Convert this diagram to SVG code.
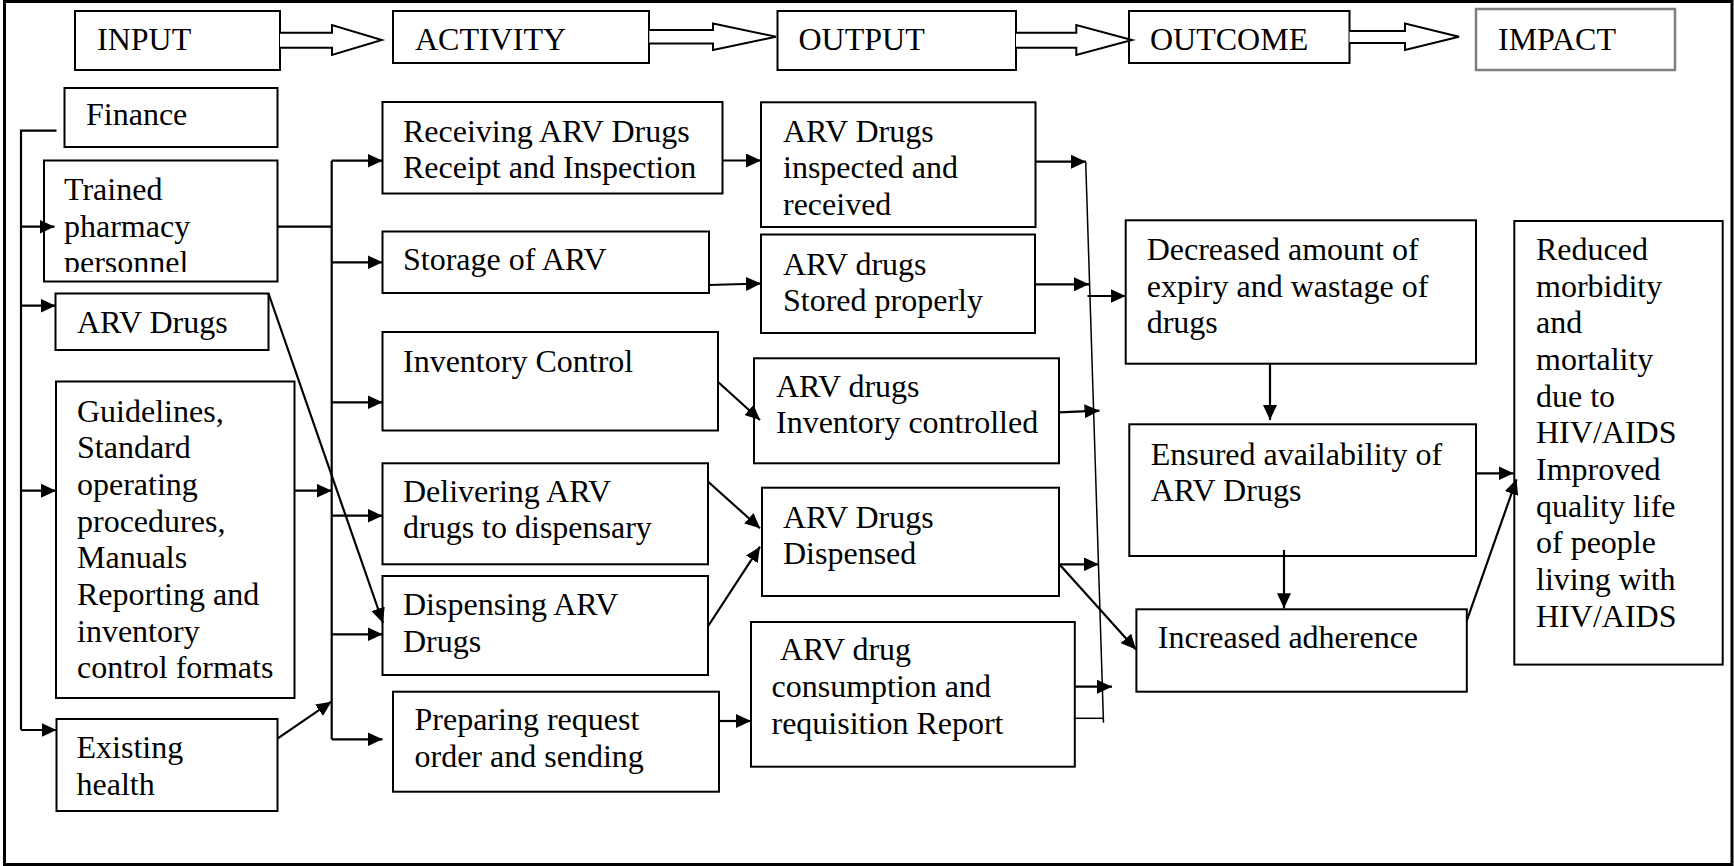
<svg xmlns="http://www.w3.org/2000/svg" width="1734" height="866" viewBox="0 0 1734 866">
<style>
.box{fill:#fff;stroke:#000;stroke-width:2}
.gbox{fill:#fff;stroke:#7f7f7f;stroke-width:2.5}
.t{font-family:"Liberation Serif","Times New Roman",serif;font-size:32px;fill:#000}
.c{fill:none;stroke:#000;stroke-width:2.2}
.thin{fill:none;stroke:#000;stroke-width:1.5}
.blk{fill:#fff;stroke:#000;stroke-width:2}
</style>
<defs>
<marker id="ah" viewBox="0 0 15 14" refX="15" refY="7" markerWidth="15" markerHeight="14" markerUnits="userSpaceOnUse" orient="auto"><path d="M0,0 L15,7 L0,14 z" fill="#000"/></marker>
<clipPath id="clipT"><rect x="44" y="160" width="234" height="112"/></clipPath>
</defs>
<rect x="4.5" y="1.5" width="1727.5" height="863" fill="#fff" stroke="#000" stroke-width="3"/>

<g id="hdr-input"><rect class="box" x="75" y="11" width="205" height="59"/><text class="t" x="97" y="50">INPUT</text></g>
<g id="hdr-activity"><rect class="box" x="393" y="11" width="256" height="52"/><text class="t" x="415" y="50">ACTIVITY</text></g>
<g id="hdr-output"><rect class="box" x="777.5" y="11" width="238.5" height="59"/><text class="t" x="798.5" y="50">OUTPUT</text></g>
<g id="hdr-outcome"><rect class="box" x="1129" y="11" width="220.5" height="52"/><text class="t" x="1150" y="50">OUTCOME</text></g>
<g id="hdr-impact"><rect class="gbox" x="1476" y="9" width="199" height="61"/><text class="t" x="1498" y="50">IMPACT</text></g>

<g id="n-finance"><rect class="box" x="64.5" y="88" width="213" height="59"/><text class="t" x="86" y="125">Finance</text></g>
<g id="n-trained"><rect class="box" x="44" y="160.5" width="233.5" height="121"/><text class="t" clip-path="url(#clipT)"><tspan x="64" y="200">Trained</tspan><tspan x="64" y="236.7">pharmacy</tspan><tspan x="64" y="273.3">personnel</tspan></text></g>
<g id="n-arvdrugs"><rect class="box" x="55.5" y="293.5" width="213" height="56.5"/><text class="t" x="77" y="333">ARV Drugs</text></g>
<g id="n-guidelines"><rect class="box" x="56" y="381.5" width="238.5" height="316.5"/><text class="t"><tspan x="77" y="421.7">Guidelines,</tspan><tspan x="77" y="458.3">Standard</tspan><tspan x="77" y="495">operating</tspan><tspan x="77" y="531.7">procedures,</tspan><tspan x="77" y="568.3">Manuals</tspan><tspan x="77" y="605">Reporting and</tspan><tspan x="77" y="641.7">inventory</tspan><tspan x="77" y="678.3">control formats</tspan></text></g>
<g id="n-existing"><rect class="box" x="56.5" y="719" width="221" height="92"/><text class="t"><tspan x="76.5" y="758.3">Existing</tspan><tspan x="76.5" y="795">health</tspan></text></g>

<g id="n-receiving"><rect class="box" x="382.5" y="102" width="340" height="91.5"/><text class="t"><tspan x="403" y="141.7">Receiving ARV Drugs</tspan><tspan x="403" y="178.3">Receipt and Inspection</tspan></text></g>
<g id="n-storage"><rect class="box" x="382.5" y="231.5" width="326.5" height="61.5"/><text class="t" x="403" y="270">Storage of ARV</text></g>
<g id="n-inventory"><rect class="box" x="382.5" y="332" width="335.5" height="98.5"/><text class="t" x="403" y="371.7">Inventory Control</text></g>
<g id="n-delivering"><rect class="box" x="382.5" y="463.3" width="325.5" height="101"/><text class="t"><tspan x="403" y="501.7">Delivering ARV</tspan><tspan x="403" y="538.3">drugs to dispensary</tspan></text></g>
<g id="n-dispensing"><rect class="box" x="382.5" y="576" width="325.5" height="99"/><text class="t"><tspan x="403" y="615">Dispensing ARV</tspan><tspan x="403" y="651.7">Drugs</tspan></text></g>
<g id="n-preparing"><rect class="box" x="393" y="691.7" width="326" height="100"/><text class="t"><tspan x="414.5" y="730">Preparing request</tspan><tspan x="414.5" y="766.7">order and sending</tspan></text></g>

<g id="n-inspected"><rect class="box" x="761" y="102.3" width="274.5" height="124.7"/><text class="t"><tspan x="783" y="141.7">ARV Drugs</tspan><tspan x="783" y="178.3">inspected and</tspan><tspan x="783" y="215">received</tspan></text></g>
<g id="n-stored"><rect class="box" x="761" y="234.5" width="274" height="98.5"/><text class="t"><tspan x="783" y="274.5">ARV drugs</tspan><tspan x="783" y="311.2">Stored properly</tspan></text></g>
<g id="n-controlled"><rect class="box" x="754" y="358.3" width="305" height="105"/><text class="t"><tspan x="776" y="396.7">ARV drugs</tspan><tspan x="776" y="433.3">Inventory controlled</tspan></text></g>
<g id="n-dispensed"><rect class="box" x="762" y="487.7" width="297" height="108.3"/><text class="t"><tspan x="783" y="527.5">ARV Drugs</tspan><tspan x="783" y="564.2">Dispensed</tspan></text></g>
<g id="n-consumption"><rect class="box" x="751" y="622" width="323.8" height="144.7"/><text class="t"><tspan x="780" y="660.3">ARV drug</tspan><tspan x="771.5" y="697">consumption and</tspan><tspan x="771.5" y="733.7">requisition Report</tspan></text></g>

<g id="n-decreased"><rect class="box" x="1125.7" y="220.3" width="350.3" height="143.4"/><text class="t"><tspan x="1146.7" y="260">Decreased amount of</tspan><tspan x="1146.7" y="296.7">expiry and wastage of</tspan><tspan x="1146.7" y="333.3">drugs</tspan></text></g>
<g id="n-ensured"><rect class="box" x="1129.3" y="424.3" width="346.7" height="131.7"/><text class="t"><tspan x="1150.7" y="464.5">Ensured availability of</tspan><tspan x="1150.7" y="501.2">ARV Drugs</tspan></text></g>
<g id="n-increased"><rect class="box" x="1136.4" y="609.3" width="330.4" height="82.4"/><text class="t" x="1157.8" y="648.3">Increased adherence</text></g>

<g id="n-impact"><rect class="box" x="1514.3" y="221" width="208.4" height="443.6"/><text class="t"><tspan x="1536" y="260">Reduced</tspan><tspan x="1536" y="296.7">morbidity</tspan><tspan x="1536" y="333.3">and</tspan><tspan x="1536" y="370">mortality</tspan><tspan x="1536" y="406.7">due to</tspan><tspan x="1536" y="443.3">HIV/AIDS</tspan><tspan x="1536" y="480">Improved</tspan><tspan x="1536" y="516.7">quality life</tspan><tspan x="1536" y="553.3">of people</tspan><tspan x="1536" y="590">living with</tspan><tspan x="1536" y="626.7">HIV/AIDS</tspan></text></g>

<g id="connectors">
<path class="blk" d="M280,32.7 H332 V25 L381.8,40 L332,55 V47.7 H280"/>
<path class="blk" d="M649.3,30 H713 V23.5 L776,36.7 L713,50 V43.5 H649.3"/>
<path class="blk" d="M1016,32.7 H1076.3 V25 L1132,40 L1076.3,55 V47.7 H1016"/>
<path class="blk" d="M1349.5,31 H1405 V23.5 L1459,36.7 L1405,50 V43 H1349.5"/>

<path class="c" d="M56.5,130.7 H21 V730"/>
<path class="c" marker-end="url(#ah)" d="M21,226.7 H54.5"/>
<path class="c" marker-end="url(#ah)" d="M21,305.7 H55.5"/>
<path class="c" marker-end="url(#ah)" d="M21,490.7 H56"/>
<path class="c" marker-end="url(#ah)" d="M21,730 H56.5"/>

<path class="c" d="M277.5,226.7 H331.7"/>
<path class="c" d="M331.7,160.7 V739.3"/>
<path class="c" marker-end="url(#ah)" d="M331.7,160.7 H382.5"/>
<path class="c" marker-end="url(#ah)" d="M331.7,262.3 H382.5"/>
<path class="c" marker-end="url(#ah)" d="M331.7,402.3 H382.5"/>
<path class="c" marker-end="url(#ah)" d="M331.7,515.7 H382.5"/>
<path class="c" marker-end="url(#ah)" d="M331.7,634.3 H382.5"/>
<path class="c" marker-end="url(#ah)" d="M331.7,739.3 H382.5"/>
<path class="c" marker-end="url(#ah)" d="M294.5,490.7 H331.7"/>
<path class="c" marker-end="url(#ah)" d="M277.8,738.3 L331.4,701.7"/>
<path class="c" marker-end="url(#ah)" d="M268.5,293.5 L383,623"/>

<path class="c" marker-end="url(#ah)" d="M722.5,160.5 H761"/>
<path class="c" marker-end="url(#ah)" d="M709,285 L761,283.5"/>
<path class="c" marker-end="url(#ah)" d="M717.8,381.7 L760,420"/>
<path class="c" marker-end="url(#ah)" d="M708.2,481.7 L760,528.3"/>
<path class="c" marker-end="url(#ah)" d="M708.2,626 L760,546.7"/>
<path class="c" marker-end="url(#ah)" d="M719,721 H751"/>

<path class="thin" d="M1085.7,161.7 L1103.5,722.7"/>
<path class="c" marker-end="url(#ah)" d="M1035.5,161.7 H1086"/>
<path class="c" marker-end="url(#ah)" d="M1035,284.3 H1089"/>
<path class="c" marker-end="url(#ah)" d="M1087.5,296 H1125.7"/>
<path class="c" marker-end="url(#ah)" d="M1059,412.3 L1099.5,410.7"/>
<path class="c" marker-end="url(#ah)" d="M1059,564.3 H1098.6"/>
<path class="c" marker-end="url(#ah)" d="M1060,565 L1136,649.5"/>
<path class="c" marker-end="url(#ah)" d="M1074.8,686.7 H1112"/>
<path class="thin" d="M1074.8,718.3 H1103"/>

<path class="c" marker-end="url(#ah)" d="M1270,363.7 V420"/>
<path class="c" marker-end="url(#ah)" d="M1284,550 V608.3"/>
<path class="c" marker-end="url(#ah)" d="M1476,473.3 H1513.5"/>
<path class="c" marker-end="url(#ah)" d="M1466.8,620.7 L1516.5,479.3"/>
</g>
</svg>
